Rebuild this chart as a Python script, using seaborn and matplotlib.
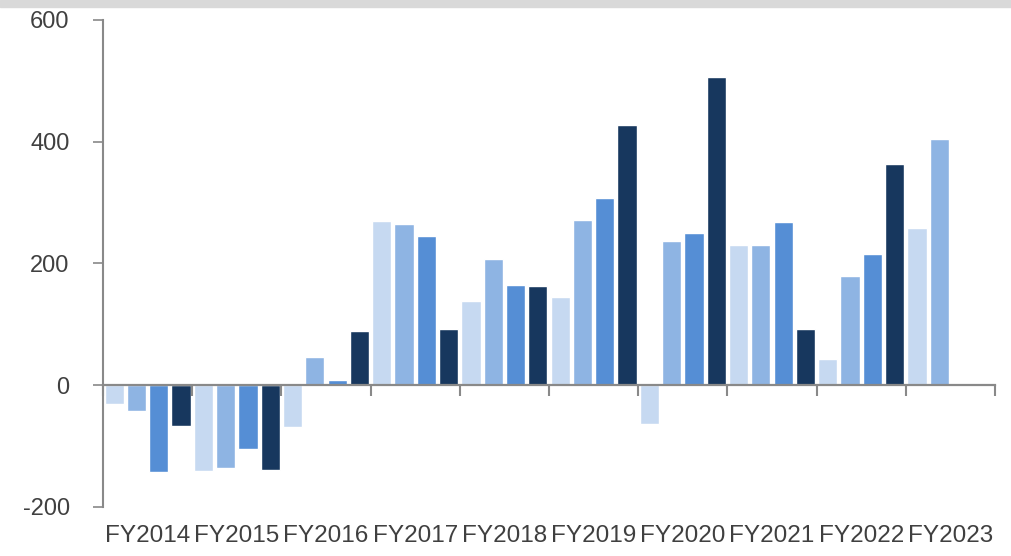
import numpy as np
import pandas as pd
import matplotlib
matplotlib.use("Agg")
import matplotlib.pyplot as plt
from matplotlib.patches import Rectangle
import seaborn as sns

years = ["FY2014", "FY2015", "FY2016", "FY2017", "FY2018",
         "FY2019", "FY2020", "FY2021", "FY2022", "FY2023"]
quarters = ["Q1", "Q2", "Q3", "Q4"]
q1 = [-31, -141, -69, 270, 138, 145, -64, 230, 43, 258]
q2 = [-43, -136, 46, 265, 207, 271, 237, 230, 179, 404]
q3 = [-143, -105, 8, 245, 164, 307, 250, 268, 215, np.nan]
q4 = [-67, -140, 89, 92, 163, 427, 506, 92, 363, np.nan]
colors = ["#C6D9F1", "#8EB4E3", "#558ED5", "#17375E"]

df = pd.DataFrame({"year": years * 4,
                   "quarter": np.repeat(quarters, len(years)),
                   "value": q1 + q2 + q3 + q4})

sns.set_style("white")
plt.rcParams["font.family"] = ["Liberation Sans", "DejaVu Sans"]
plt.rcParams["axes.unicode_minus"] = False

fig = plt.figure(figsize=(10.11, 5.56), dpi=100)
ax = fig.add_axes([103 / 1011, (556 - 506.7) / 556, (995 - 103) / 1011, (506.7 - 20) / 556])

sns.barplot(data=df, x="year", y="value", hue="quarter", palette=colors,
            saturation=1, width=1.0, gap=0.14, legend=False, ax=ax)

grey = "#898989"
ax.set_ylim(-200, 600)
ax.set_xlim(-0.5, len(years) - 0.5)
ax.set_yticks([-200, 0, 200, 400, 600])
ax.set_xlabel("")
ax.set_ylabel("")
for s in ["top", "right", "bottom"]:
    ax.spines[s].set_visible(False)
ax.spines["left"].set_color(grey)
ax.spines["left"].set_linewidth(1.5)
ax.tick_params(axis="y", direction="out", length=7, width=1.2, color=grey,
               labelsize=17, labelcolor="#404040", pad=17, left=True)
ax.tick_params(axis="x", length=0, labelsize=17.5, labelcolor="#404040", pad=13)

# zero line with category boundary ticks
sec = ax.secondary_xaxis(0.25)
sec.set_zorder(5)
sec.set_xticks(np.arange(len(years) + 1) - 0.5)
sec.set_xticklabels([])
sec.spines["bottom"].set_color(grey)
sec.spines["bottom"].set_linewidth(1.6)
sec.tick_params(axis="x", direction="out", length=8, width=1.5, color=grey)

fig.patches.append(Rectangle((0, 1 - 7 / 556), 1, 7 / 556, transform=fig.transFigure,
                             color="#D9D9D9", zorder=0))

fig.savefig("out.png", dpi=100)
